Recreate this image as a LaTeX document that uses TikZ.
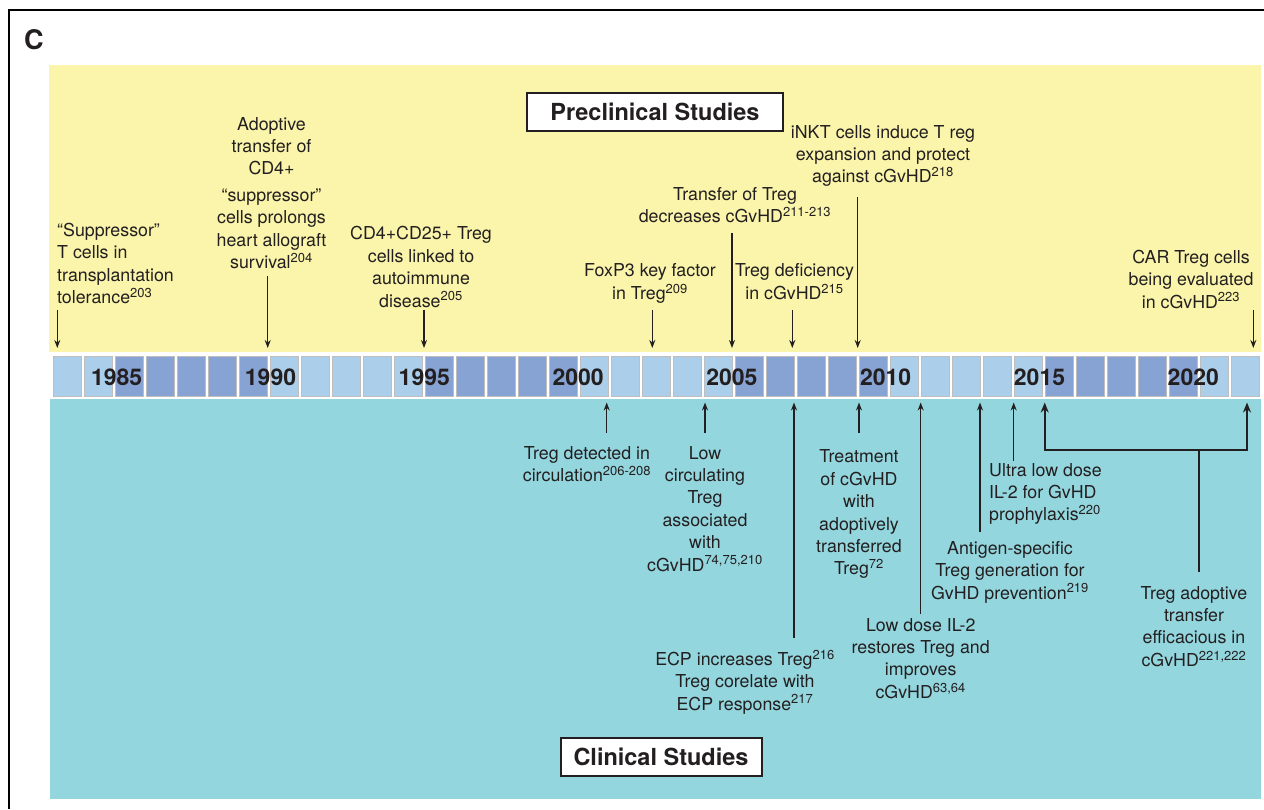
\documentclass[tikz,border=0pt]{standalone}
\usepackage{fontspec}
\setmainfont{TeX Gyre Heros}
\usepackage{tikz}
\usetikzlibrary{arrows.meta}
\definecolor{preyellow}{HTML}{FAF5AA}
\definecolor{clincyan}{HTML}{93D6DE}
\definecolor{yearlight}{HTML}{ABCFEA}
\definecolor{yeardark}{HTML}{86A3D3}
\definecolor{yearedge}{HTML}{BEBEBE}
\definecolor{inkdark}{HTML}{231F20}
\newcommand{\evfont}{\fontsize{17.8}{22.4}\selectfont}
\newcommand{\yrfont}{\fontsize{23}{26}\selectfont\bfseries}
\newcommand{\hdfont}{\fontsize{23.5}{26}\selectfont\bfseries}
\newcommand{\panelfont}{\fontsize{27}{30}\selectfont\bfseries}
\newcommand{\rf}[1]{\textsuperscript{\fontsize{13}{13}\selectfont #1}}

\begin{document}
\begin{tikzpicture}[x=1pt, y=-1pt,
    event/.style={font=\evfont, text=inkdark, align=center, inner sep=0pt, anchor=north},
    tick/.style={draw=inkdark, line width=1.5pt, -{Stealth[length=8pt,width=6pt]}},
    bracket/.style={draw=inkdark, line width=1.7pt, {Stealth[length=10pt,width=8pt]}-{Stealth[length=10pt,width=8pt]}},
    studybox/.style={draw=inkdark, line width=2pt, fill=white, font=\hdfont, text=inkdark, minimum height=38pt, inner sep=0pt},
    yearbox/.style={draw=yearedge, line width=0.9pt, minimum width=28.3pt, minimum height=39.7pt, inner sep=0pt, anchor=north west}]
    \useasboundingbox (0,0) rectangle (1264,809);

    % Panel frame and letter
    \draw[line width=2pt] (9,809) -- (9,10) -- (1264,10);
    \node[font=\panelfont, text=inkdark, inner sep=0pt, anchor=north west] (panel) at (24,29.3) {C};

    % Background bands
    \fill[preyellow] (49.3,65) rectangle (1260.7,351.7);
    \fill[clincyan] (50,399) rectangle (1260.7,799);
    \coordinate (bartop) at (0,348);
    \coordinate (barbot) at (0,402.5);

    % Year boxes (blocks of five)
    \foreach \i in {0,...,38} {
        \pgfmathtruncatemacro{\shade}{mod(\i+3,10)>4 ? 1 : 0}
        \ifnum\shade=1 \def\boxcol{yeardark}\else\def\boxcol{yearlight}\fi
        \node[yearbox, fill=\boxcol] (b\i) at ({52.5+31*\i},356) {};
    }
    \foreach \yr [count=\k from 0] in {1985,1990,...,2020} {
        \node[font=\yrfont, text=inkdark, inner sep=0pt] (yr\yr) at ({116.7+153.8*\k},377.5) {\yr};
    }

    % Section headers
    \node[studybox, minimum width=256pt] (prehead) at (655,111.7) {Preclinical Studies};
    \node[studybox, minimum width=201pt] (clihead) at (661,756.7) {Clinical Studies};

    % Preclinical events
    \node[event, anchor=north west, align=left] (supp) at (57,223) {“Suppressor”\\T cells in\\transplantation\\tolerance\rf{203}};
    \node[event] (adopt) at (271.5,117) {Adoptive\\transfer of\\CD4+\\[4pt]“suppressor”\\cells prolongs\\heart allograft\\survival\rf{204}};
    \node[event] (cdtf) at (421,226.3) {CD4+CD25+ Treg\\cells linked to\\autoimmune\\disease\rf{205}};
    \node[event] (foxp) at (650,263.7) {FoxP3 key factor\\in Treg\rf{209}};
    \node[event] (trans) at (735,187) {Transfer of Treg\\decreases cGvHD\rf{211-213}};
    \node[event] (defic) at (794.5,263.7) {Treg deficiency\\in cGvHD\rf{215}};
    \node[event] (inkt) at (883,125) {iNKT cells induce T reg\\expansion and protect\\against cGvHD\rf{218}};
    \node[event] (car) at (1191,249.7) {CAR Treg cells\\being evaluated\\in cGvHD\rf{223}};

    % Clinical events
    \node[event] (detect) at (587,446) {Treg detected in\\circulation\rf{206-208}};
    \node[event] (lowcirc) at (705,446) {Low\\circulating\\Treg\\associated\\with\\cGvHD\rf{74,75,210}};
    \node[event] (ecp) at (745,649.7) {ECP increases Treg\rf{216}\\Treg corelate with\\ECP response\rf{217}};
    \node[event] (treat) at (859,449.7) {Treatment\\of cGvHD\\with\\adoptively\\transferred\\Treg\rf{72}};
    \node[event] (lowdose) at (920.7,618) {Low dose IL-2\\restores Treg and\\improves\\cGvHD\rf{63,64}};
    \node[event] (antigen) at (1010,541) {Antigen-specific\\Treg generation for\\GvHD prevention\rf{219}};
    \node[event, anchor=north west, align=left] (ultra) at (989,463) {Ultra low dose\\IL-2 for GvHD\\prophylaxis\rf{220}};
    \node[event] (adtrans) at (1194,586) {Treg adoptive\\transfer\\efficacious in\\cGvHD\rf{221,222}};

    % Ticks down to the bar
    \foreach \x/\y [count=\i] in {57.3/310,267.7/276,424/310,652.3/310,732/233,792.3/310,857.7/197,1253.3/310} {
        \coordinate (pre\i) at (\x,\y);
        \draw[tick] (pre\i) -- (pre\i |- bartop);
    }

    % Ticks up to the bar
    \foreach \x/\y [count=\i] in {606.7/433,705/433,794/638,859/433,920.7/614,980/532,1013.7/460.7} {
        \coordinate (cli\i) at (\x,\y);
        \draw[tick] (cli\i) -- (cli\i |- barbot);
    }

    % Bracket for adoptive transfer
    \coordinate (brL) at (1044.7,450);
    \coordinate (brR) at (1247,450);
    \coordinate (brS) at (1198.7,450);
    \draw[bracket] (brL |- barbot) -- (brL) -- (brR) -- (brR |- barbot);
    \draw[draw=inkdark, line width=1.7pt] ([yshift=14pt]adtrans.north -| brS) -- (brS);
\end{tikzpicture}
\end{document}
